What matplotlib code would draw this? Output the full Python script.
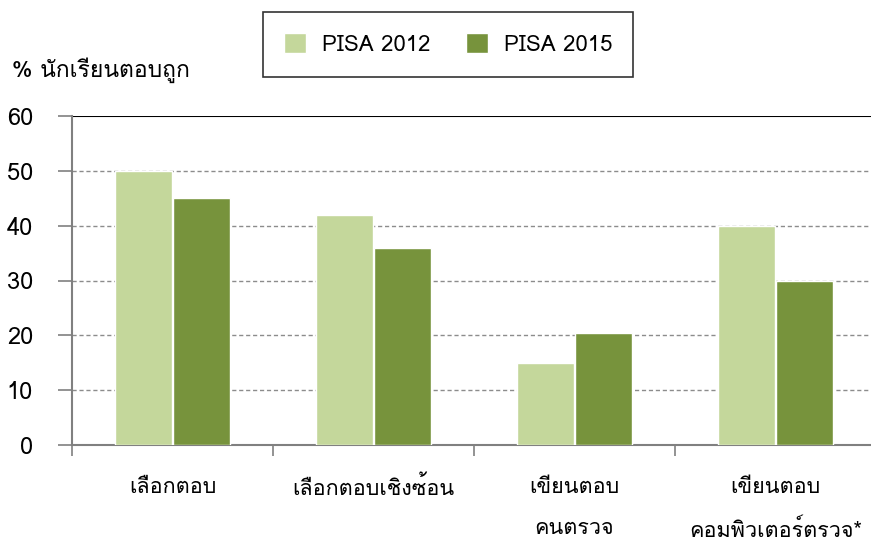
import matplotlib
matplotlib.use('Agg')
import matplotlib.pyplot as plt
import numpy as np
from matplotlib import font_manager
from matplotlib.ft2font import FT2Font

# pick an installed font that has Thai glyphs
thai_font = None
for f in font_manager.fontManager.ttflist:
    try:
        if 0x0E01 in FT2Font(f.fname).get_charmap():
            thai_font = f.name
            break
    except Exception:
        pass
families = [thai_font, 'DejaVu Sans'] if thai_font else ['DejaVu Sans']
plt.rcParams['font.family'] = families

categories = ['เลือกตอบ', 'เลือกตอบเชิงซ้อน', 'เขียนตอบ\nคนตรวจ', 'เขียนตอบ\nคอมพิวเตอร์ตรวจ*']
pisa_2012 = [50, 42, 15, 40]
pisa_2015 = [45, 36, 20.5, 30]
series_names = ['PISA 2012', 'PISA 2015']
colors = ['#C4D79B', '#77933C']

fig = plt.figure(figsize=(8.71, 5.41), dpi=100)
ax = fig.add_axes([72/871, 1 - 445/541, 1 - 72/871, (445 - 116)/541])

x = np.arange(len(categories))
w = 0.28
ax.bar(x - w/2 - 0.004, pisa_2012, w, color=colors[0], edgecolor='white', linewidth=1, label=series_names[0], zorder=3)
ax.bar(x + w/2 + 0.004, pisa_2015, w, color=colors[1], edgecolor='white', linewidth=1, label=series_names[1], zorder=3)

ax.set_xlim(-0.5, 3.475)
ax.set_ylim(0, 60)
ax.set_yticks(range(0, 61, 10))
for v in range(10, 60, 10):
    ax.axhline(v, color='#8c8c8c', linestyle=(0, (3, 2)), linewidth=1, zorder=1)
ax.axhline(60, color='black', linewidth=1.5, zorder=1)

ax.set_xticks(np.arange(len(categories)) - 0.5)
ax.set_xticklabels([])
ax.set_xticks(x, minor=True)
ax.set_xticklabels(categories, minor=True, fontsize=15.5, linespacing=2.25)
ax.tick_params(axis='x', which='minor', length=0, pad=23)
ax.tick_params(axis='x', which='major', length=8, color='#808080', width=1.2)
ax.tick_params(axis='y', length=10, color='#808080', width=1.2, labelsize=17, pad=18)

for s in ['top', 'right']:
    ax.spines[s].set_visible(False)
for s in ['left', 'bottom']:
    ax.spines[s].set_color('#808080')
    ax.spines[s].set_linewidth(1.5)

fig.text(12/871, 1 - 70/541, '% นักเรียนตอบถูก', fontsize=16.5, va='center', ha='left')

leg = fig.legend(loc='center', bbox_to_anchor=(448/871, 1 - 44.5/541), ncol=2, fontsize=16,
                 frameon=True, fancybox=False, edgecolor='black', handlelength=1, handleheight=1,
                 columnspacing=1.6, borderpad=0.95, handletextpad=0.7, borderaxespad=0)
leg.get_frame().set_linewidth(1.2)

fig.savefig('out.png', dpi=100)
